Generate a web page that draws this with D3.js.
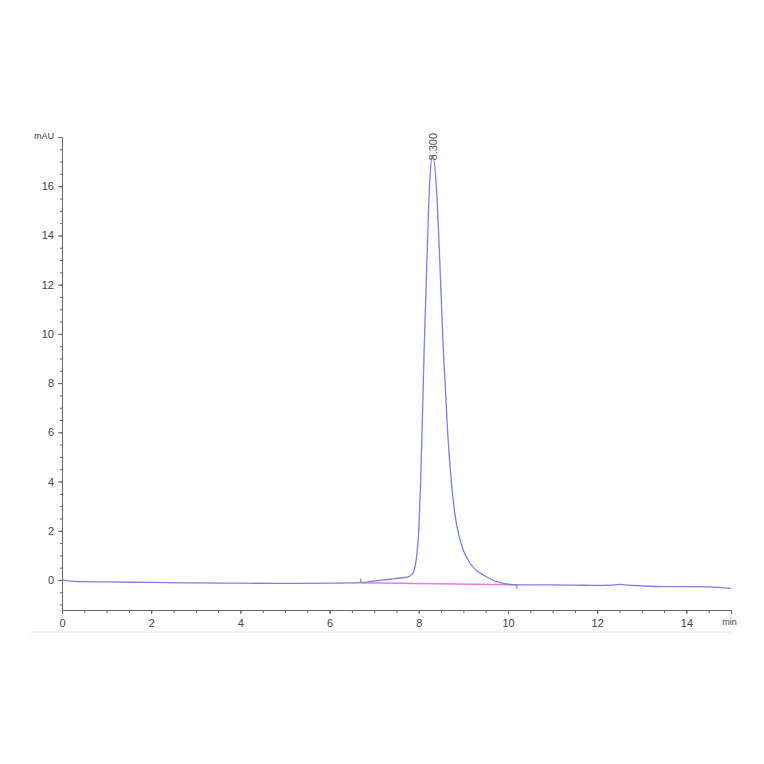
<!DOCTYPE html>
<html>
<head>
<meta charset="utf-8">
<script src="https://cdn.jsdelivr.net/npm/d3@7"></script>
<style>
  html, body { margin: 0; padding: 0; background: #fff; }
  svg { display: block; font-family: "Liberation Sans", Arial, sans-serif; }
</style>
</head>
<body>
<svg id="chart" width="764" height="764"></svg>
<script>
// retention time (min) and absorbance (mAU)
var time = [0, 0.25, 1.0, 2.0, 3.0, 4.0, 5.0, 6.0, 6.7, 6.97, 7.35, 7.58, 7.76, 7.84, 7.88,
            7.95, 8.0, 8.04, 8.08, 8.12, 8.19, 8.24, 8.31, 8.40, 8.46, 8.55, 8.65, 8.72,
            8.80, 8.90, 9.0, 9.15, 9.3, 9.45, 9.6, 9.75, 10.12, 10.5, 11.0, 11.5, 12.0, 12.3,
            12.5, 12.7, 13.0, 13.5, 14.0, 14.5, 15.0];
var signal = [0, -0.06, -0.08, -0.1, -0.12, -0.13, -0.14, -0.13, -0.11, -0.05, 0.03, 0.08, 0.13, 0.22, 0.32,
              0.95, 2.0, 3.94, 6.5, 9.35, 13.4, 16.0, 17.25, 15.8, 13.4, 9.35, 5.9, 4.2,
              2.8, 1.8, 1.2, 0.68, 0.38, 0.2, 0.05, -0.07, -0.19, -0.2, -0.2, -0.21, -0.22, -0.21,
              -0.18, -0.21, -0.24, -0.27, -0.27, -0.28, -0.34];

// integration baseline under the peak
var baseTime = [6.7, 10.2];
var baseSignal = [-0.11, -0.2];

// peak annotation
var peakTime = 8.31;
var peakValue = 17.25;
var peakLabel = "8.300";

var xMajor = [0, 2, 4, 6, 8, 10, 12, 14];
var yMajor = [0, 2, 4, 6, 8, 10, 12, 14, 16];
var xUnit = "min";
var yUnit = "mAU";

var svg = d3.select("#chart");

var x = d3.scaleLinear().domain([0, 15]).range([62, 731]);
var y = d3.scaleLinear().domain([-1.22, 18]).range([610, 137]);

// faint rule under the axis labels
svg.append("line")
   .attr("x1", 30).attr("x2", 731)
   .attr("y1", 632).attr("y2", 632)
   .attr("stroke", "#e4e4e4")
   .attr("stroke-width", 1);

// minor ticks every 0.5
var xMinor = d3.range(0, 15.01, 0.5);
var yMinor = d3.range(-1, 18.01, 0.5);

var xMinorAxis = svg.append("g")
  .attr("transform", "translate(0,610)")
  .call(d3.axisBottom(x).tickValues(xMinor).tickSize(3).tickSizeOuter(0).tickFormat(""));

var yMinorAxis = svg.append("g")
  .attr("transform", "translate(62,0)")
  .call(d3.axisLeft(y).tickValues(yMinor).tickSize(2).tickSizeOuter(0).tickFormat(""));

var xAxis = svg.append("g")
  .attr("transform", "translate(0,610)")
  .call(d3.axisBottom(x)
    .tickValues(xMajor.concat([15]))
    .tickSize(4)
    .tickSizeOuter(0)
    .tickPadding(5)
    .tickFormat(function(d) { return d === 15 ? xUnit : d; }));

var yAxis = svg.append("g")
  .attr("transform", "translate(62,0)")
  .call(d3.axisLeft(y)
    .tickValues(yMajor.concat([18]))
    .tickSize(4)
    .tickSizeOuter(0)
    .tickPadding(4)
    .tickFormat(function(d) { return d === 18 ? yUnit : d; }));

svg.selectAll(".domain, .tick line")
   .attr("stroke", "#666");

svg.selectAll(".tick text")
   .attr("fill", "#444")
   .style("font-size", "11px")
   .style("font-family", "'Liberation Sans', Arial, sans-serif");

xAxis.selectAll(".tick text")
   .filter(function(d) { return d === 15; })
   .style("font-size", "9px")
   .attr("dx", "-2");

yAxis.selectAll(".tick text")
   .filter(function(d) { return d === 18; })
   .style("font-size", "9px")
   .attr("dy", "0.2em");

// integration baseline
svg.append("path")
   .datum(d3.zip(baseTime, baseSignal))
   .attr("d", d3.line().x(function(d) { return x(d[0]); }).y(function(d) { return y(d[1]); }))
   .attr("fill", "none")
   .attr("stroke", "#ee77dd")
   .attr("stroke-width", 1.6);

// start / end markers of the integration
svg.selectAll(".int-mark")
   .data(d3.zip(baseTime, baseSignal))
   .enter()
   .append("line")
     .classed("int-mark", true)
     .attr("x1", function(d) { return x(d[0]); })
     .attr("x2", function(d) { return x(d[0]); })
     .attr("y1", function(d, i) { return y(d[1]) + (i === 0 ? -4 : 0); })
     .attr("y2", function(d, i) { return y(d[1]) + (i === 0 ? 0 : 4); })
     .attr("stroke", "#777")
     .attr("stroke-width", 1);

// chromatogram trace
svg.append("path")
   .datum(d3.zip(time, signal))
   .attr("d", d3.line()
     .curve(d3.curveMonotoneX)
     .x(function(d) { return x(d[0]); })
     .y(function(d) { return y(d[1]); }))
   .attr("fill", "none")
   .attr("stroke", "#7b80e2")
   .attr("stroke-width", 1.3);

// retention time label, written vertically above the apex
svg.append("text")
   .attr("transform", "translate(" + (x(peakTime) + 4) + "," + (y(peakValue) + 5) + ") rotate(-90)")
   .attr("fill", "#555")
   .style("font-size", "11px")
   .text(peakLabel);
</script>
</body>
</html>
